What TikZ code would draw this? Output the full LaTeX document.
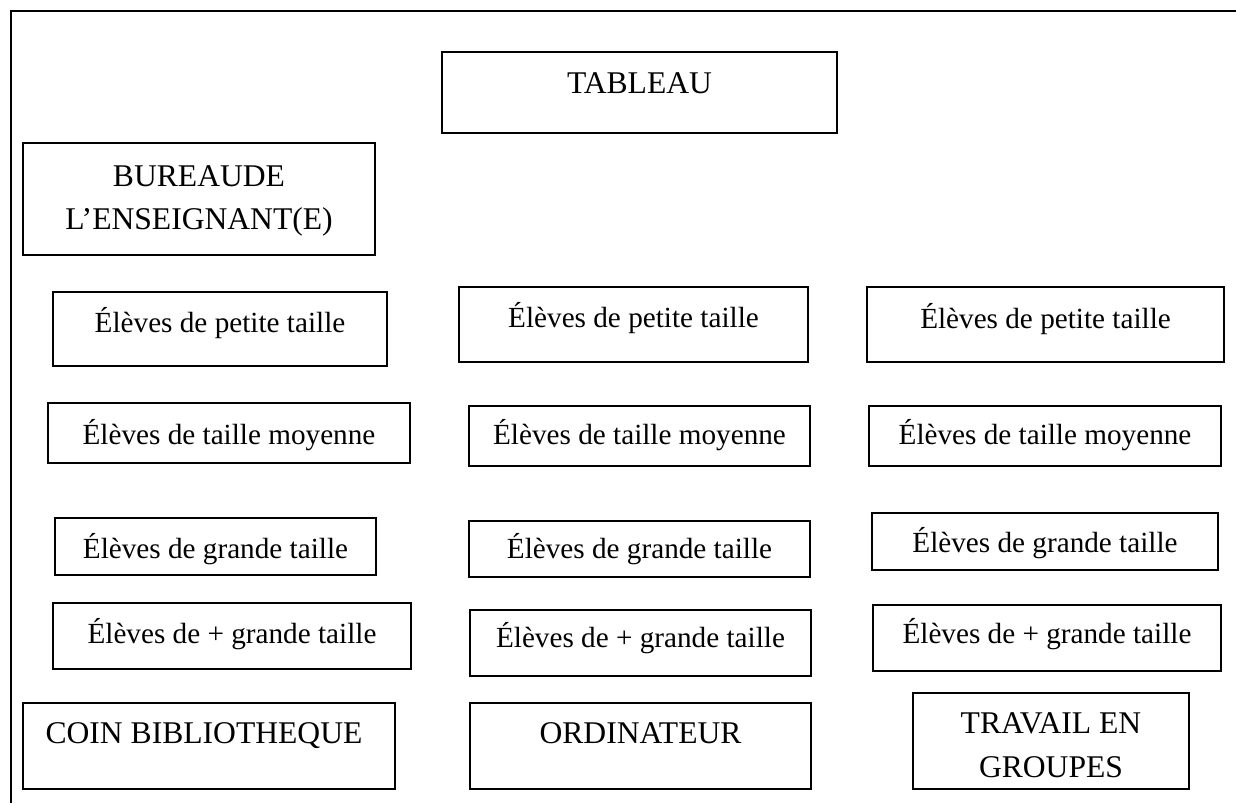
\documentclass[tikz,border=0pt]{standalone}
\usepackage{fontspec}
\setmainfont{Liberation Serif}
\tikzset{
  seat/.style={draw, line width=1.5pt, inner sep=0pt, font=\fontsize{29.2}{35}\selectfont},
  capsbox/.style={draw, line width=1.5pt, inner sep=0pt, align=center, font=\fontsize{31.6}{43.5}\selectfont},
  frame/.style={line width=1.8pt}
}
\begin{document}
\begin{tikzpicture}[x=1pt,y=-1pt]
\useasboundingbox (0,0) rectangle (1236,803);
\fill[white] (0,0) rectangle (1236,803);
% frame
\coordinate (fbl) at (11,803);
\coordinate (ftl) at (11,11);
\coordinate (ftr) at (1236,11);
\draw[frame] (fbl) -- (ftl) -- (ftr);
% top
\node[capsbox, minimum width=395pt, text height=41pt, text depth=40pt] (tableau) at (639.5,92.5) {TABLEAU};
\node[capsbox, minimum width=352pt, minimum height=112pt] (bureau) at (199,199) {\rule{0pt}{25pt}BUREAUDE\\L’ENSEIGNANT(E)};
% row 1
\node[seat, minimum width=334pt, text height=40pt, text depth=34pt] (p1) at (220,329) {Élèves de petite taille};
\node[seat, minimum width=349pt, text height=40pt, text depth=35pt] (p2) at (633.5,324.5) {Élèves de petite taille};
\node[seat, minimum width=357pt, text height=41pt, text depth=34pt] (p3) at (1045.5,324.5) {Élèves de petite taille};
% row 2
\node[seat, minimum width=362pt, text height=41pt, text depth=19pt] (m1) at (229,433) {Élèves de taille moyenne};
\node[seat, minimum width=341pt, text height=38pt, text depth=22pt] (m2) at (639.5,436) {Élèves de taille moyenne};
\node[seat, minimum width=352pt, text height=38pt, text depth=22pt] (m3) at (1045,436) {Élèves de taille moyenne};
% row 3
\node[seat, minimum width=321pt, text height=40pt, text depth=17pt] (g1) at (215.5,546.5) {Élèves de grande taille};
\node[seat, minimum width=341pt, text height=37pt, text depth=19pt] (g2) at (639.5,549) {Élèves de grande taille};
\node[seat, minimum width=346pt, text height=39pt, text depth=18pt] (g3) at (1045,541.5) {Élèves de grande taille};
% row 4
\node[seat, minimum width=358pt, text height=40pt, text depth=26pt] (pg1) at (232,636) {Élèves de + grande taille};
\node[seat, minimum width=341pt, text height=37pt, text depth=29pt] (pg2) at (640.5,643) {Élèves de + grande taille};
\node[seat, minimum width=348pt, text height=38pt, text depth=28pt] (pg3) at (1047,638) {Élèves de + grande taille};
% row 5
\node[capsbox, minimum width=372pt, text height=40pt, text depth=46pt] (coin) at (209,746) {COIN BIBLIOTHEQUE\hspace{10pt}};
\node[capsbox, minimum width=341pt, text height=40pt, text depth=46pt] (ordi) at (640.5,746) {ORDINATEUR};
\node[capsbox, minimum width=276pt, minimum height=96pt] (travail) at (1051,741) {\rule{0pt}{29pt}TRAVAIL EN\\GROUPES};
\end{tikzpicture}
\end{document}
